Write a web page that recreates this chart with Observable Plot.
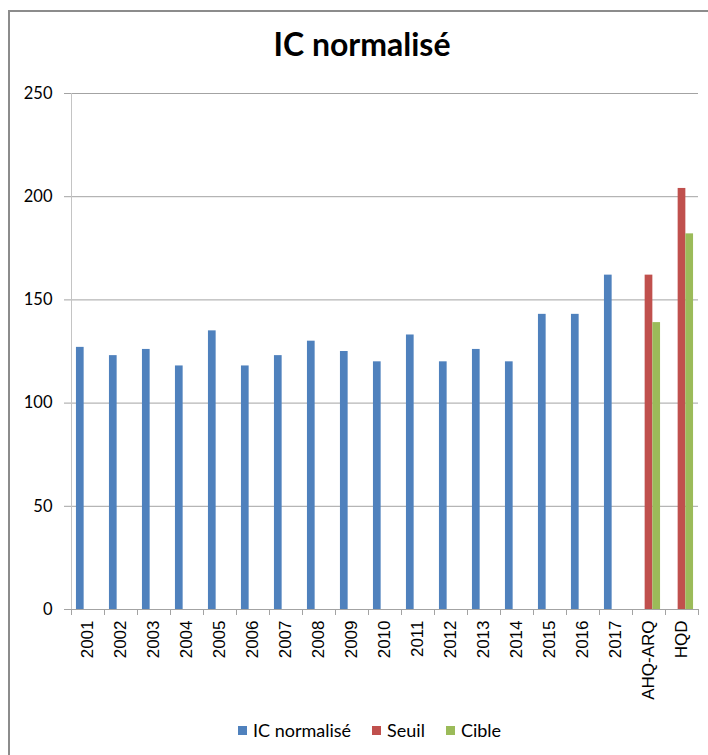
<!DOCTYPE html>
<html><head><meta charset="utf-8">
<script src="https://cdn.jsdelivr.net/npm/d3@7"></script>
<script src="https://cdn.jsdelivr.net/npm/@observablehq/plot@0.6"></script>
<style>
html,body{margin:0;padding:0;background:#fff;width:708px;height:755px;overflow:hidden;position:relative;}
#frame{position:absolute;left:8px;top:10px;width:730px;height:780px;border:2px solid #8c8c8c;box-sizing:border-box;}
#title{position:absolute;left:0;width:724px;top:24px;text-align:center;font-family:Lato,sans-serif;font-weight:bold;font-size:32px;line-height:40px;color:#000;}
#chart{position:absolute;left:0;top:0;}
#legend{position:absolute;left:238px;top:720px;display:flex;align-items:center;font-family:Lato,sans-serif;font-size:18px;color:#000;line-height:20px;}
#legend .item{display:flex;align-items:center;margin-right:21px;}
#legend .sw{width:9px;height:9px;margin-right:6px;}
</style>
</head><body>
<div id="frame"></div>
<div id="title">IC normalisé</div>
<div id="chart"></div>
<div id="legend"></div>
<script>
const categories = ["2001","2002","2003","2004","2005","2006","2007","2008","2009","2010","2011","2012","2013","2014","2015","2016","2017","AHQ-ARQ","HQD"];
const icYears = ["2001","2002","2003","2004","2005","2006","2007","2008","2009","2010","2011","2012","2013","2014","2015","2016","2017"];
const icValues = [127,123,126,118,135,118,123,130,125,120,133,120,126,120,143,143,162];
const refCats = ["AHQ-ARQ","HQD"];
const seuilValues = [162,204];
const cibleValues = [139,182];
const yTicks = [0,50,100,150,200,250];
const seriesNames = ["IC normalisé","Seuil","Cible"];
const seriesColors = ["#4F81BD","#C0504D","#9BBB59"];

const W = 708, H = 700, mL = 71, mR = 10, mT = 93, mB = 91;
const bw = (W - mL - mR) / categories.length;
const groupPad = 0.15 * bw;
const barW = (bw - 2 * groupPad) / 3;
const slot = k => ({insetLeft: groupPad + k * barW, insetRight: bw - groupPad - (k + 1) * barW});

const icData = icYears.map((c, i) => ({cat: c, v: icValues[i]}));
const seuilData = refCats.map((c, i) => ({cat: c, v: seuilValues[i]}));
const cibleData = refCats.map((c, i) => ({cat: c, v: cibleValues[i]}));
const gridColor = "#a3a3a3";

const chart = Plot.plot({
  width: W, height: H,
  marginLeft: mL, marginRight: mR, marginTop: mT, marginBottom: mB,
  style: {fontFamily: "Lato, sans-serif", fontSize: "16.5px", background: "transparent"},
  x: {domain: categories, padding: 0, axis: null, label: null},
  y: {domain: [0, 250], axis: null, label: null},
  marks: [
    Plot.ruleY(yTicks, {stroke: gridColor, strokeWidth: 1}),
    Plot.frame({anchor: "left", stroke: "#c4c4c4"}),
    Plot.ruleX(categories, {x: d => d, dx: -bw / 2, y1: 0, y2: 0, insetBottom: -6, stroke: gridColor}),
    Plot.ruleX(categories.slice(-1), {x: d => d, dx: bw / 2, y1: 0, y2: 0, insetBottom: -6, stroke: gridColor}),
    Plot.barY(icData, {x: "cat", y: "v", fill: seriesColors[0], ...slot(0)}),
    Plot.barY(seuilData, {x: "cat", y: "v", fill: seriesColors[1], ...slot(1)}),
    Plot.barY(cibleData, {x: "cat", y: "v", fill: seriesColors[2], ...slot(2)}),
    Plot.axisY({ticks: yTicks, label: null, tickSize: 7, tickPadding: 12, stroke: gridColor, fill: "#000", fontSize: 16.5, fontFamily: "Lato, sans-serif"}),
    Plot.axisX({tickRotate: -90, label: null, tickSize: 0, tickPadding: 11, fill: "#000", fontSize: 17, fontFamily: "'Liberation Sans', Arial, sans-serif"})
  ]
});
document.getElementById("chart").appendChild(chart);

const legend = document.getElementById("legend");
seriesNames.forEach((n, i) => {
  const it = document.createElement("div"); it.className = "item";
  const sw = document.createElement("div"); sw.className = "sw"; sw.style.background = seriesColors[i];
  const tx = document.createElement("span"); tx.textContent = n;
  it.appendChild(sw); it.appendChild(tx); legend.appendChild(it);
});
</script>
</body></html>
